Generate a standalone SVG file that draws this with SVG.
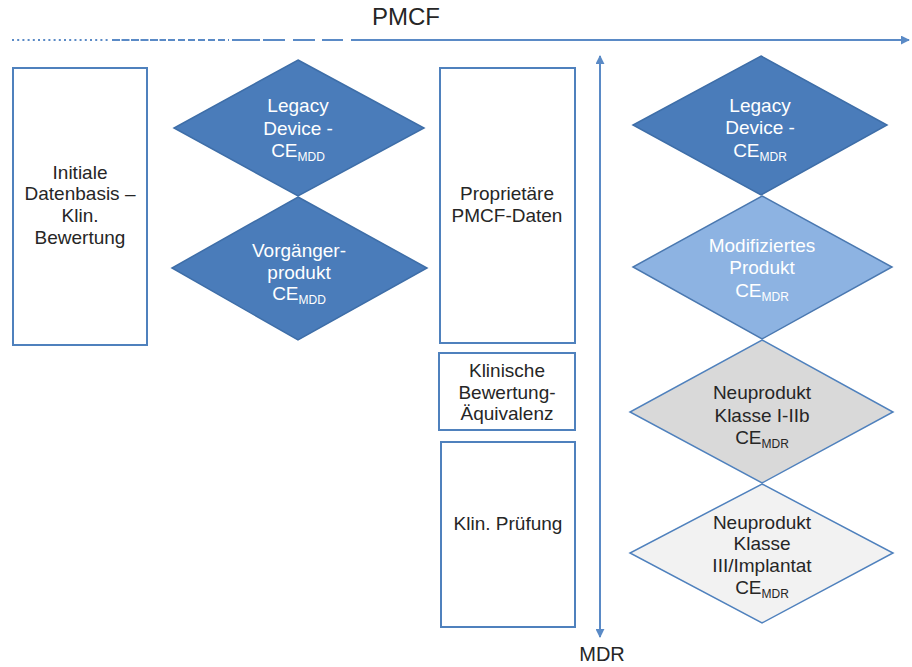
<svg xmlns="http://www.w3.org/2000/svg" width="912" height="667" viewBox="0 0 912 667">
<style>
.t{font-family:"Liberation Sans",Arial,sans-serif;font-size:19px;text-anchor:middle;fill:#262626}
.w{fill:#ffffff}
.sub{font-size:12px}
.box{fill:#ffffff;stroke:#4f81bd;stroke-width:2}
.dk{fill:#4a7cba;stroke:#3e6ea8;stroke-width:1.5}
.lb{fill:#8db3e2;stroke:#4a78b0;stroke-width:1.5}
.gr{fill:#d9d9d9;stroke:#4f81bd;stroke-width:1.5}
.lg{fill:#f2f2f2;stroke:#4f81bd;stroke-width:1.5}
.ln{stroke:#5a8ac6;stroke-width:2;fill:none}
</style>
<defs>
<marker id="ah" viewBox="0 0 10 10" refX="9" refY="5" markerWidth="4.5" markerHeight="4.5" orient="auto-start-reverse">
<path d="M0,0 L10,5 L0,10 z" fill="#5a8ac6"/>
</marker>
</defs>
<rect width="912" height="667" fill="#ffffff"/>

<g id="connectors">
<line class="ln" x1="12" y1="40" x2="110" y2="40" stroke-dasharray="2 3.2"/>
<line class="ln" x1="112" y1="40" x2="166" y2="40" stroke-dasharray="8 1.5"/>
<line class="ln" x1="168" y1="40" x2="229" y2="40" stroke-dasharray="7 3"/>
<line class="ln" x1="232" y1="40" x2="260" y2="40"/>
<line class="ln" x1="263" y1="40" x2="285" y2="40"/>
<line class="ln" x1="293" y1="40" x2="315" y2="40"/>
<line class="ln" x1="322" y1="40" x2="343" y2="40"/>
<line class="ln" x1="351" y1="40" x2="909" y2="40" marker-end="url(#ah)"/>
<line class="ln" x1="600" y1="56" x2="600" y2="637" marker-start="url(#ah)" marker-end="url(#ah)"/>
</g>

<g id="label-pmcf"><text class="t" x="406" y="25" style="font-size:24px">PMCF</text></g>
<g id="label-mdr"><text class="t" x="602" y="661" style="font-size:20px">MDR</text></g>

<g id="initiale">
<rect class="box" x="13" y="68" width="134" height="277"/>
<text class="t" x="80" y="179">Initiale</text>
<text class="t" x="80" y="200">Datenbasis –</text>
<text class="t" x="80" y="222">Klin.</text>
<text class="t" x="80" y="244">Bewertung</text>
</g>

<g id="legacy-mdd">
<polygon class="dk" points="298,60 424,128 298,196 174,128"/>
<text class="t w" x="298" y="112">Legacy</text>
<text class="t w" x="298" y="135">Device -</text>
<text class="t w" x="298" y="157">CE<tspan class="sub" dy="4">MDD</tspan></text>
</g>

<g id="vorgaenger">
<polygon class="dk" points="298,197 427,268 298,340 172,268"/>
<text class="t w" x="299" y="257">Vorgänger-</text>
<text class="t w" x="299" y="279">produkt</text>
<text class="t w" x="299" y="300">CE<tspan class="sub" dy="4">MDD</tspan></text>
</g>

<g id="proprietaere">
<rect class="box" x="440" y="68" width="135" height="275"/>
<text class="t" x="507" y="200">Proprietäre</text>
<text class="t" x="507" y="222">PMCF-Daten</text>
</g>

<g id="aequivalenz">
<rect class="box" x="439" y="353" width="136" height="77"/>
<text class="t" x="507" y="377">Klinische</text>
<text class="t" x="507" y="399">Bewertung-</text>
<text class="t" x="507" y="420">Äquivalenz</text>
</g>

<g id="pruefung">
<rect class="box" x="441" y="442" width="134" height="185"/>
<text class="t" x="508" y="530">Klin. Prüfung</text>
</g>

<g id="legacy-mdr">
<polygon class="dk" points="761,56 887,125 761,195 633,125"/>
<text class="t w" x="760" y="112">Legacy</text>
<text class="t w" x="760" y="134">Device -</text>
<text class="t w" x="760" y="157">CE<tspan class="sub" dy="4">MDR</tspan></text>
</g>

<g id="modifiziert">
<polygon class="lb" points="762,196 892,267 762,339 633,267"/>
<text class="t w" x="762" y="252">Modifiziertes</text>
<text class="t w" x="762" y="274">Produkt</text>
<text class="t w" x="762" y="297">CE<tspan class="sub" dy="4">MDR</tspan></text>
</g>

<g id="neu-klasse-i-iib">
<polygon class="gr" points="762,340 893,412 762,483 630,412"/>
<text class="t" x="762" y="399">Neuprodukt</text>
<text class="t" x="762" y="422">Klasse I-IIb</text>
<text class="t" x="762" y="444">CE<tspan class="sub" dy="4">MDR</tspan></text>
</g>

<g id="neu-klasse-iii">
<polygon class="lg" points="762,484 893,553 762,623 630,553"/>
<text class="t" x="762" y="529">Neuprodukt</text>
<text class="t" x="762" y="550">Klasse</text>
<text class="t" x="762" y="572">III/Implantat</text>
<text class="t" x="762" y="594">CE<tspan class="sub" dy="4">MDR</tspan></text>
</g>
</svg>
